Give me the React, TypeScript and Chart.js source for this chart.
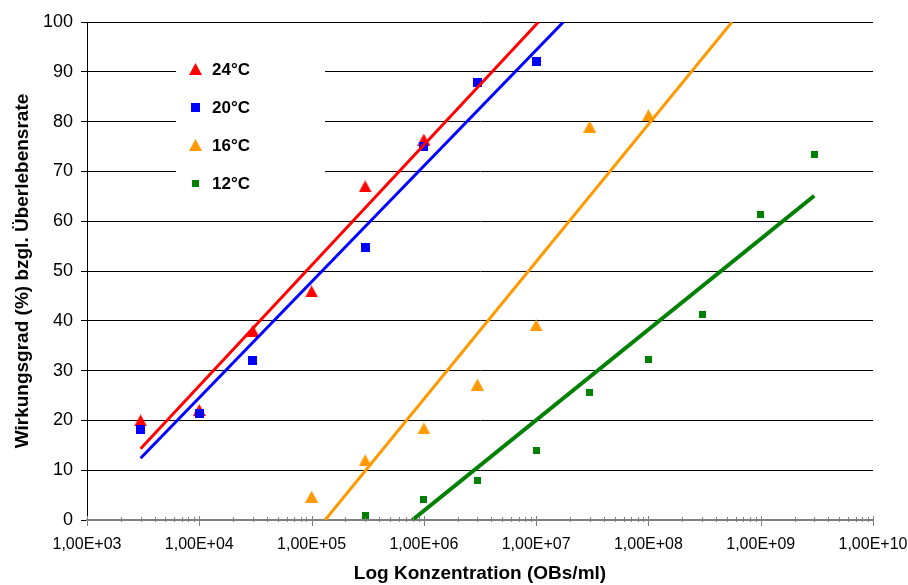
import React, { useEffect, useRef } from 'react';
import { Chart, registerables } from 'chart.js';

Chart.register(...registerables);

// ---- data ----
const seriesNames = ['24°C', '20°C', '16°C', '12°C'];
const seriesColors = ['#FF0000', '#0000FF', '#FF9900', '#008000'];
const trendWidths = [3, 3, 3, 4];

const x24 = [3e3, 1e4, 3e4, 1e5, 3e5, 1e6];
const y24 = [20.0, 22.1, 38.0, 45.9, 67.0, 76.4];

const x20 = [3e3, 1e4, 3e4, 3e5, 1e6, 3e6, 1e7];
const y20 = [18.1, 21.3, 32.1, 54.7, 75.0, 87.9, 92.1];

const x16 = [1e5, 3e5, 1e6, 3e6, 1e7, 3e7, 1e8];
const y16 = [4.7, 12.0, 18.4, 27.2, 39.1, 79.0, 81.3];

const x12 = [3e5, 1e6, 3e6, 1e7, 3e7, 1e8, 3e8, 1e9, 3e9];
const y12 = [1.0, 4.1, 7.9, 14.0, 25.6, 32.2, 41.3, 61.4, 73.4];

// trend line end points (log fits as shown in the chart)
const trendX24 = [3e3, 1.05e7];
const trendY24 = [14.3, 100];
const trendX20 = [3e3, 1.75e7];
const trendY20 = [12.4, 100];
const trendX16 = [1.32e5, 5.55e8];
const trendY16 = [0, 100];
const trendX12 = [7.9e5, 3e9];
const trendY12 = [0, 65.1];

const xTickValues = [1e3, 1e4, 1e5, 1e6, 1e7, 1e8, 1e9, 1e10];
const xMin = 1e3;
const xMax = 1e10;
const yMin = 0;
const yMax = 100;
const yStep = 10;

const xTitle = 'Log Konzentration (OBs/ml)';
const yTitle = 'Wirkungsgrad (%) bzgl. Überlebensrate';

const FONT = "'Liberation Sans', Arial, sans-serif";

function pts(xs: number[], ys: number[]) {
  return xs.map((x, i) => ({ x, y: ys[i] }));
}

function makeTriangle(color: string, w: number, h: number) {
  const c = document.createElement('canvas');
  c.width = w;
  c.height = h;
  const g = c.getContext('2d')!;
  g.fillStyle = color;
  g.beginPath();
  g.moveTo(w / 2, 0);
  g.lineTo(w, h);
  g.lineTo(0, h);
  g.closePath();
  g.fill();
  return c;
}

function makeSquare(color: string, s: number) {
  const c = document.createElement('canvas');
  c.width = s;
  c.height = s;
  const g = c.getContext('2d')!;
  g.fillStyle = color;
  g.fillRect(0, 0, s, s);
  return c;
}

function fmtTick(v: number) {
  const e = Math.round(Math.log10(v));
  return '1,00E+' + String(e).padStart(2, '0');
}

export default function App() {
  const ref = useRef<HTMLCanvasElement | null>(null);

  useEffect(() => {
    if (!ref.current) return;
    const markers = [
      makeTriangle(seriesColors[0], 13, 12),
      makeSquare(seriesColors[1], 9),
      makeTriangle(seriesColors[2], 13, 12),
      makeSquare(seriesColors[3], 7),
    ];

    const axisDecor = {
      id: 'axisDecor',
      beforeDatasetsDraw(chart: any) {
        const { ctx, chartArea } = chart;
        // legend box (white, hides gridlines)
        ctx.save();
        ctx.fillStyle = '#FFFFFF';
        ctx.fillRect(chartArea.left + 89, chartArea.top + 13, 149, 170);
        ctx.font = `bold 17px ${FONT}`;
        ctx.textBaseline = 'middle';
        ctx.textAlign = 'left';
        ctx.fillStyle = '#000';
        const lx = chartArea.left + 108;
        for (let i = 0; i < seriesNames.length; i++) {
          const ly = chartArea.top + 47 + i * 38;
          const m = markers[i];
          ctx.drawImage(m, Math.round(lx - m.width / 2), Math.round(ly - m.height / 2));
          ctx.fillText(seriesNames[i], lx + 17, ly + 1);
        }
        ctx.restore();
      },
      afterDraw(chart: any) {
        const { ctx } = chart;
        const xs = chart.scales.x;
        const yb = chart.chartArea.bottom;
        ctx.save();
        ctx.strokeStyle = '#808080';
        ctx.lineWidth = 1;
        const lo = Math.round(Math.log10(xMin));
        const hi = Math.round(Math.log10(xMax));
        for (let d = lo; d <= hi; d++) {
          const base = Math.pow(10, d);
          const px = Math.round(xs.getPixelForValue(base)) + 0.5;
          ctx.beginPath();
          ctx.moveTo(px, yb - 4);
          ctx.lineTo(px, yb + 6);
          ctx.stroke();
          if (d === hi) break;
          for (let m = 2; m <= 9; m++) {
            const p = Math.round(xs.getPixelForValue(m * base)) + 0.5;
            ctx.beginPath();
            ctx.moveTo(p, yb - 3);
            ctx.lineTo(p, yb + 2);
            ctx.stroke();
          }
        }
        ctx.restore();
      },
    };

    const scatter = (i: number, xs: number[], ys: number[], order: number) => ({
      type: 'scatter' as const,
      label: seriesNames[i],
      data: pts(xs, ys),
      pointStyle: markers[i],
      pointRadius: 6,
      pointHoverRadius: 6,
      backgroundColor: seriesColors[i],
      borderColor: seriesColors[i],
      showLine: false,
      order,
    });
    const trend = (i: number, xs: number[], ys: number[]) => ({
      type: 'line' as const,
      label: seriesNames[i] + ' trend',
      data: pts(xs, ys),
      borderColor: seriesColors[i],
      backgroundColor: seriesColors[i],
      borderWidth: trendWidths[i],
      pointRadius: 0,
      fill: false,
      tension: 0,
      order: 0,
    });

    const chart = new Chart(ref.current, {
      type: 'scatter',
      data: {
        datasets: [
          trend(0, trendX24, trendY24),
          trend(1, trendX20, trendY20),
          trend(2, trendX16, trendY16),
          trend(3, trendX12, trendY12),
          scatter(3, x12, y12, 1),
          scatter(2, x16, y16, 2),
          scatter(1, x20, y20, 3),
          scatter(0, x24, y24, 4),
        ] as any,
      },
      options: {
        animation: false,
        responsive: false,
        maintainAspectRatio: false,
        layout: { padding: { top: 22, right: 35, bottom: 0, left: 0 } },
        plugins: {
          legend: { display: false },
          tooltip: { enabled: false },
        },
        scales: {
          x: {
            type: 'logarithmic',
            min: xMin,
            max: xMax,
            afterBuildTicks: (scale: any) => {
              scale.ticks = xTickValues.map((v) => ({ value: v, major: true }));
            },
            afterFit: (scale: any) => {
              scale.height = 65;
              scale.paddingLeft = 0;
              scale.paddingRight = 0;
            },
            grid: { display: false, drawTicks: false },
            border: { display: true, color: '#808080', width: 2 },
            ticks: {
              autoSkip: false,
              maxRotation: 0,
              padding: 15,
              color: '#000',
              font: { family: FONT, size: 16 },
              callback: (v: any) => fmtTick(Number(v)),
            },
            title: {
              display: true,
              text: xTitle,
              color: '#000',
              font: { family: FONT, size: 19, weight: 'bold' },
              padding: { top: 0, bottom: 0 },
            },
          },
          y: {
            type: 'linear',
            min: yMin,
            max: yMax,
            afterFit: (scale: any) => {
              scale.width = 87;
              scale.paddingTop = 0;
              scale.paddingBottom = 0;
            },
            grid: {
              display: true,
              color: '#000',
              lineWidth: 1,
              drawTicks: true,
              tickLength: 6,
              tickColor: '#000',
            },
            border: { display: true, color: '#000', width: 1 },
            ticks: {
              stepSize: yStep,
              padding: 8,
              color: '#000',
              font: { family: FONT, size: 18 },
            },
            title: {
              display: true,
              text: yTitle,
              color: '#000',
              font: { family: FONT, size: 19, weight: 'bold' },
              padding: { top: 11, bottom: 0 },
            },
          },
        },
      },
      plugins: [axisDecor],
    });

    return () => chart.destroy();
  }, []);

  return (
    <div style={{ position: 'fixed', left: 0, top: 0, width: 908, height: 585, background: '#fff' }}>
      <canvas ref={ref} width={908} height={585} style={{ display: 'block' }} />
    </div>
  );
}
